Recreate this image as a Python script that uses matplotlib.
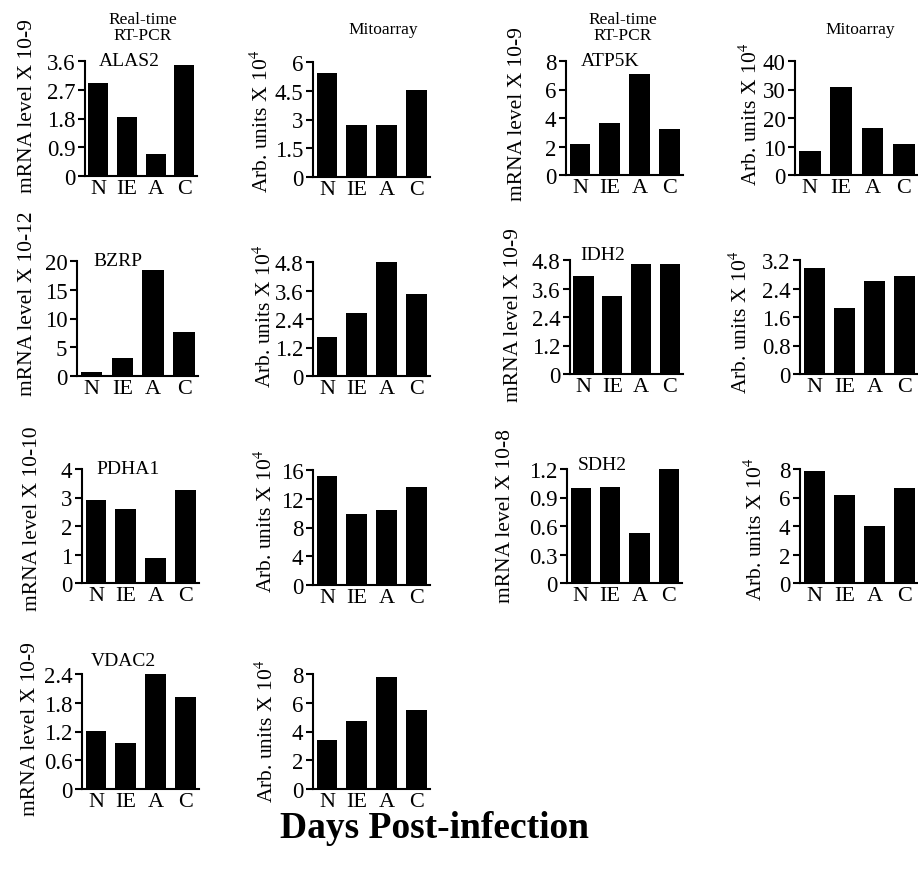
import numpy as np
import matplotlib
matplotlib.use('Agg')
import matplotlib.pyplot as plt

plt.rcParams['font.family'] = ['Liberation Serif', 'DejaVu Serif']
plt.rcParams['mathtext.fontset'] = 'stix'

# data
categories = ['N', 'IE', 'A', 'C']
genes = ['ALAS2', 'ATP5K', 'BZRP', 'IDH2', 'PDHA1', 'SDH2', 'VDAC2']
rt_exponents = ['-9', '-9', '-12', '-9', '-10', '-8', '-9']

alas2_rt = [2.92, 1.85, 0.69, 3.46]
alas2_mito = [5.44, 2.72, 2.72, 4.55]
atp5k_rt = [2.17, 3.62, 7.11, 3.22]
atp5k_mito = [8.5, 31.0, 16.5, 10.9]
bzrp_rt = [0.75, 3.19, 18.4, 7.65]
bzrp_mito = [1.66, 2.65, 4.8, 3.47]
idh2_rt = [4.11, 3.30, 4.63, 4.63]
idh2_mito = [2.97, 1.86, 2.60, 2.74]
pdha1_rt = [2.90, 2.58, 0.87, 3.27]
pdha1_mito = [15.2, 9.9, 10.5, 13.6]
sdh2_rt = [1.0, 1.01, 0.53, 1.2]
sdh2_mito = [7.84, 6.2, 4.01, 6.67]
vdac2_rt = [1.22, 0.96, 2.39, 1.93]
vdac2_mito = [3.43, 4.75, 7.81, 5.52]

alas2_rt_ticks = [0, 0.9, 1.8, 2.7, 3.6]
alas2_mito_ticks = [0, 1.5, 3, 4.5, 6]
atp5k_rt_ticks = [0, 2, 4, 6, 8]
atp5k_mito_ticks = [0, 10, 20, 30, 40]
bzrp_rt_ticks = [0, 5, 10, 15, 20]
bzrp_mito_ticks = [0, 1.2, 2.4, 3.6, 4.8]
idh2_rt_ticks = [0, 1.2, 2.4, 3.6, 4.8]
idh2_mito_ticks = [0, 0.8, 1.6, 2.4, 3.2]
pdha1_rt_ticks = [0, 1, 2, 3, 4]
pdha1_mito_ticks = [0, 4, 8, 12, 16]
sdh2_rt_ticks = [0, 0.3, 0.6, 0.9, 1.2]
sdh2_mito_ticks = [0, 2, 4, 6, 8]
vdac2_rt_ticks = [0, 0.6, 1.2, 1.8, 2.4]
vdac2_mito_ticks = [0, 2, 4, 6, 8]

rt_values = [alas2_rt, atp5k_rt, bzrp_rt, idh2_rt, pdha1_rt, sdh2_rt, vdac2_rt]
mito_values = [alas2_mito, atp5k_mito, bzrp_mito, idh2_mito, pdha1_mito, sdh2_mito, vdac2_mito]
rt_ticks = [alas2_rt_ticks, atp5k_rt_ticks, bzrp_rt_ticks, idh2_rt_ticks,
            pdha1_rt_ticks, sdh2_rt_ticks, vdac2_rt_ticks]
mito_ticks = [alas2_mito_ticks, atp5k_mito_ticks, bzrp_mito_ticks, idh2_mito_ticks,
              pdha1_mito_ticks, sdh2_mito_ticks, vdac2_mito_ticks]

# layout in pixels: (left, right, top, bottom) for rt and mito axes
W, H = 918, 878
rt_boxes = [(85, 197, 62, 177), (566, 683, 62, 176), (77, 198, 262, 377), (570, 683, 261, 375),
            (82, 199, 470, 584), (567, 682, 470, 584), (82, 199, 675, 790)]
mito_boxes = [(313, 430, 63, 178), (795, 918, 62, 176), (313, 430, 263, 377), (800, 918, 261, 375),
              (313, 430, 471, 586), (800, 918, 470, 584), (313, 430, 675, 790)]
gene_pos = [(0.40, 0.0), (0.38, 0.0), (0.34, 0.0), (0.29, 0.05), (0.39, 0.0), (0.31, 0.04), (0.35, 0.12)]
rt_label_x = [-0.43, -0.33, -0.33, -0.42, -0.34, -0.45, -0.36]
rt_label_y = [0.62, 0.54, 0.64, 0.53, 0.57, 0.6, 0.53]
mito_label_x = [-0.34, -0.27, -0.32, -0.41, -0.31, -0.28, -0.30]
mito_label_y = [0.49, 0.54, 0.53, 0.46, 0.56, 0.48, 0.51]

fig = plt.figure(figsize=(9.18, 8.78), dpi=100)


def make_axes(box):
    l, r, t, b = box
    return fig.add_axes([l / W, 1 - b / H, (r - l) / W, (b - t) / H])


def style(ax, ticks, values):
    x = np.arange(len(categories))
    ax.bar(x, values, width=0.7, color='black')
    ax.set_xlim(-0.47, 3.45)
    ax.set_ylim(0, ticks[-1])
    ax.set_yticks(ticks)
    ax.set_yticklabels(['%g' % t for t in ticks])
    ax.set_xticks(x)
    ax.set_xticklabels(categories)
    ax.spines['top'].set_visible(False)
    ax.spines['right'].set_visible(False)
    ax.spines['left'].set_linewidth(1.5)
    ax.spines['bottom'].set_linewidth(1.5)
    ax.tick_params(axis='y', length=5, width=1.5, labelsize=16.5, pad=2)
    ax.tick_params(axis='x', length=0, labelsize=16, pad=2)


for i, gene in enumerate(genes):
    ax = make_axes(rt_boxes[i])
    style(ax, rt_ticks[i], rt_values[i])
    ax.set_ylabel('mRNA level X 10' + rt_exponents[i], fontsize=15.5)
    ax.yaxis.set_label_coords(rt_label_x[i], rt_label_y[i])
    gx, gy = gene_pos[i]
    ax.text(gx, 1.0 + gy, gene, transform=ax.transAxes, ha='center', va='center', fontsize=14)

    ax2 = make_axes(mito_boxes[i])
    style(ax2, mito_ticks[i], mito_values[i])
    ax2.set_ylabel('Arb. units X 10$^4$', fontsize=15.5)
    ax2.yaxis.set_label_coords(mito_label_x[i], mito_label_y[i])

# column headers
fig.text(143 / W, 1 - 28 / H, 'Real-time\nRT-PCR', ha='center', va='center', fontsize=12.5, linespacing=1.0)
fig.text(383 / W, 1 - 30 / H, 'Mitoarray', ha='center', va='center', fontsize=12.5)
fig.text(623 / W, 1 - 28 / H, 'Real-time\nRT-PCR', ha='center', va='center', fontsize=12.5, linespacing=1.0)
fig.text(860 / W, 1 - 30 / H, 'Mitoarray', ha='center', va='center', fontsize=12.5)

fig.text(435 / W, 1 - 829 / H, 'Days Post-infection', ha='center', va='center',
         fontsize=27, fontweight='bold')

fig.savefig('out.png', dpi=100)
